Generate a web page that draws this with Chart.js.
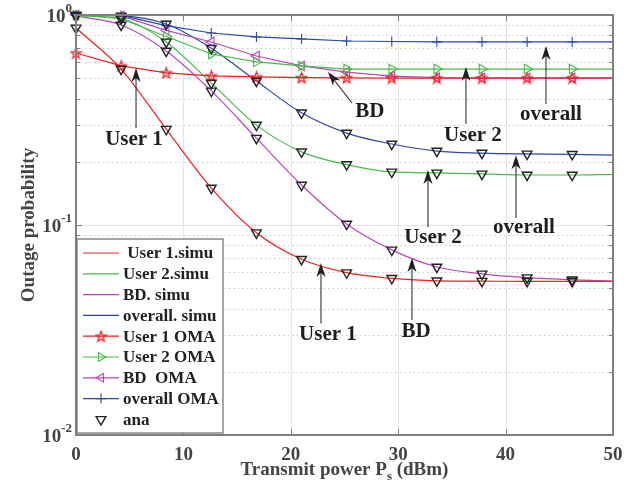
<!DOCTYPE html>
<html>
<head>
<meta charset="utf-8">
<script src="https://cdn.jsdelivr.net/npm/chart.js@4.4.0/dist/chart.umd.min.js"></script>
<style>
  html, body { margin: 0; padding: 0; background: #fff; }
</style>
</head>
<body>
<canvas id="chart" width="633" height="492"></canvas>
<script>
// transmit power (dBm) where the curves were sampled
const powerX = [0, 4.2, 8.4, 12.6, 16.8, 21, 25.2, 29.4, 33.6, 37.8, 42, 46.2, 50];

// NOMA simulation curves
const user1Simu   = [0.867, 0.553, 0.286, 0.150, 0.0919, 0.0687, 0.0593, 0.0557, 0.0542, 0.0540, 0.0539, 0.0539, 0.0539];
const user2Simu   = [0.99, 0.96, 0.744, 0.474, 0.299, 0.223, 0.194, 0.179, 0.177, 0.175, 0.173, 0.173, 0.174];
const bdSimu      = [0.99, 0.896, 0.674, 0.435, 0.259, 0.155, 0.101, 0.0761, 0.0631, 0.0585, 0.0561, 0.0548, 0.0541];
const overallSimu = [1.0, 0.99, 0.906, 0.695, 0.485, 0.342, 0.274, 0.243, 0.225, 0.220, 0.218, 0.217, 0.215];

// OMA curves
const user1Oma   = [0.659, 0.572, 0.530, 0.513, 0.507, 0.503, 0.502, 0.501, 0.501, 0.501, 0.501, 0.501, 0.501];
const user2Oma   = [1.0, 0.96, 0.79, 0.652, 0.598, 0.572, 0.553, 0.553, 0.553, 0.553, 0.553, 0.553, 0.553];
const bdOma      = [1.0, 0.99, 0.845, 0.744, 0.638, 0.572, 0.535, 0.512, 0.503, 0.502, 0.502, 0.502, 0.502];
const overallOma = [1.0, 0.995, 0.89, 0.821, 0.786, 0.769, 0.752, 0.748, 0.745, 0.744, 0.744, 0.744, 0.744];

const xTicks = [0, 10, 20, 30, 40, 50];
const yDecades = [0.01, 0.1, 1];

const legendLabels = [' User 1.simu', 'User 2.simu', 'BD. simu', 'overall. simu',
  'User 1 OMA', 'User 2 OMA', 'BD  OMA', 'overall OMA', 'ana'];

// arrows: [label, tailX, tailY, headX, headY, textX, textY] in data units
const notes = [
  ['User 1', 5.59, 0.290, 5.59, 0.559, 5.4, 0.254],
  ['BD', 25.7, 0.381, 23.46, 0.535, 27.37, 0.345],
  ['User 2', 36.31, 0.303, 36.31, 0.565, 36.96, 0.268],
  ['overall', 43.76, 0.377, 43.76, 0.712, 44.23, 0.334],
  ['User 2', 32.77, 0.0978, 32.77, 0.183, 33.24, 0.0868],
  ['overall', 40.97, 0.108, 40.97, 0.215, 41.71, 0.0968],
  ['User 1', 22.81, 0.0340, 22.81, 0.0660, 23.46, 0.0300],
  ['BD', 31.28, 0.0353, 31.28, 0.0696, 31.66, 0.0311]
];

const RED = '#f01e1e', GREEN = '#45bd45', MAGENTA = '#bd45bd', BLUE = '#2a48a6';
const SERIF = "'Liberation Serif', 'DejaVu Serif', serif";

function pts(vals) {
  return powerX.map((x, i) => ({ x: x, y: vals[i] }));
}

// red pentagram marker
function makeStar(color) {
  const c = document.createElement('canvas');
  c.width = 13; c.height = 13;
  const g = c.getContext('2d');
  g.beginPath();
  for (let i = 0; i < 10; i++) {
    const r = i % 2 === 0 ? 5.6 : 2.3;
    const a = -Math.PI / 2 + i * Math.PI / 5;
    const px = 6.5 + r * Math.cos(a), py = 7 + r * Math.sin(a);
    if (i === 0) g.moveTo(px, py); else g.lineTo(px, py);
  }
  g.closePath();
  g.fillStyle = 'rgba(255,70,70,0.2)';
  g.fill();
  g.strokeStyle = color;
  g.lineWidth = 1.2;
  g.stroke();
  return c;
}
const starImg = makeStar(RED);

const last = powerX.length - 1;
const markerRadius = r => ctx => (ctx.dataIndex === last ? 0 : r);

const simuStyle = { pointRadius: 0, borderWidth: 1.2, cubicInterpolationMode: 'monotone', order: 3, clip: false };
const omaStyle = { borderWidth: 1.2, tension: 0, order: 2, clip: false, backgroundColor: 'rgba(0,0,0,0)', pointBorderWidth: 1.1 };

const anaPoints = [user1Simu, user2Simu, bdSimu, overallSimu]
  .flatMap(s => powerX.slice(0, last).map((x, i) => ({ x: x, y: s[i] })));

const datasets = [
  { label: legendLabels[0], data: pts(user1Simu), borderColor: RED, ...simuStyle },
  { label: legendLabels[1], data: pts(user2Simu), borderColor: GREEN, ...simuStyle },
  { label: legendLabels[2], data: pts(bdSimu), borderColor: MAGENTA, ...simuStyle },
  { label: legendLabels[3], data: pts(overallSimu), borderColor: BLUE, ...simuStyle },
  { label: legendLabels[4], data: pts(user1Oma), borderColor: RED, pointStyle: starImg, pointRadius: markerRadius(5), ...omaStyle },
  { label: legendLabels[5], data: pts(user2Oma), borderColor: GREEN, pointStyle: 'triangle', pointRotation: 90, pointRadius: markerRadius(5.5), ...omaStyle },
  { label: legendLabels[6], data: pts(bdOma), borderColor: MAGENTA, pointStyle: 'triangle', pointRotation: -90, pointRadius: markerRadius(5.5), ...omaStyle },
  { label: legendLabels[7], data: pts(overallOma), borderColor: BLUE, pointStyle: 'cross', pointRadius: markerRadius(5), ...omaStyle },
  { label: legendLabels[8], data: anaPoints, showLine: false, borderColor: '#222', backgroundColor: 'rgba(0,0,0,0)',
    pointStyle: 'triangle', pointRotation: 180, pointRadius: 5.6, pointBorderWidth: 1.4, order: 1, clip: false }
];

function minorValues() {
  const out = [];
  for (let d = 0; d < yDecades.length - 1; d++) {
    for (let k = 2; k <= 9; k++) out.push(yDecades[d] * k);
  }
  return out;
}

const gridPlugin = {
  id: 'grid',
  beforeDatasetsDraw(chart) {
    const { ctx, chartArea: a, scales: { x, y } } = chart;
    ctx.save();
    ctx.lineWidth = 1;
    ctx.strokeStyle = '#e4e4e4';
    xTicks.slice(1, -1).forEach(v => {
      const px = Math.round(x.getPixelForValue(v)) + 0.5;
      ctx.beginPath(); ctx.moveTo(px, a.top); ctx.lineTo(px, a.bottom); ctx.stroke();
    });
    yDecades.slice(1, -1).forEach(v => {
      const py = Math.round(y.getPixelForValue(v)) + 0.5;
      ctx.beginPath(); ctx.moveTo(a.left, py); ctx.lineTo(a.right, py); ctx.stroke();
    });
    ctx.strokeStyle = '#c8c8c8';
    ctx.setLineDash([1.5, 3]);
    minorValues().forEach(v => {
      const py = Math.round(y.getPixelForValue(v)) + 0.5;
      ctx.beginPath(); ctx.moveTo(a.left, py); ctx.lineTo(a.right, py); ctx.stroke();
    });
    ctx.restore();
  }
};

function drawArrow(ctx, x1, y1, x2, y2) {
  const dx = x2 - x1, dy = y2 - y1, len = Math.hypot(dx, dy);
  const ux = dx / len, uy = dy / len, nx = -uy, ny = ux;
  const L = 14, W = 4.5, N = 4;
  ctx.beginPath();
  ctx.moveTo(x1, y1); ctx.lineTo(x2 - ux * (L - N), y2 - uy * (L - N));
  ctx.stroke();
  ctx.beginPath();
  ctx.moveTo(x2, y2);
  ctx.lineTo(x2 - ux * L + nx * W, y2 - uy * L + ny * W);
  ctx.lineTo(x2 - ux * (L - N), y2 - uy * (L - N));
  ctx.lineTo(x2 - ux * L - nx * W, y2 - uy * L - ny * W);
  ctx.closePath();
  ctx.fill();
}

const framePlugin = {
  id: 'frame',
  afterDraw(chart) {
    const { ctx, chartArea: a, scales: { x, y } } = chart;
    ctx.save();

    // annotations
    ctx.strokeStyle = '#333';
    ctx.fillStyle = '#1e1e1e';
    ctx.lineWidth = 1.1;
    ctx.font = 'bold 21px ' + SERIF;
    ctx.textAlign = 'center';
    ctx.textBaseline = 'middle';
    notes.forEach(n => {
      drawArrow(ctx, x.getPixelForValue(n[1]), y.getPixelForValue(n[2]),
        x.getPixelForValue(n[3]), y.getPixelForValue(n[4]));
      ctx.fillText(n[0], x.getPixelForValue(n[5]), y.getPixelForValue(n[6]));
    });

    // box and inward ticks
    ctx.strokeStyle = '#808080';
    ctx.lineWidth = 1;
    xTicks.slice(1, -1).forEach(v => {
      const px = Math.round(x.getPixelForValue(v)) + 0.5;
      ctx.beginPath();
      ctx.moveTo(px, a.bottom); ctx.lineTo(px, a.bottom - 6);
      ctx.moveTo(px, a.top); ctx.lineTo(px, a.top + 6);
      ctx.stroke();
    });
    const yt = yDecades.map(v => [v, 6]).concat(minorValues().map(v => [v, 4]));
    yt.forEach(([v, l]) => {
      const py = Math.round(y.getPixelForValue(v)) + 0.5;
      ctx.beginPath();
      ctx.moveTo(a.left, py); ctx.lineTo(a.left + l, py);
      ctx.moveTo(a.right, py); ctx.lineTo(a.right - l, py);
      ctx.stroke();
    });
    ctx.lineWidth = 2;
    ctx.strokeRect(a.left, a.top, a.right - a.left, a.bottom - a.top);

    // y tick labels with exponents
    ctx.fillStyle = '#444';
    ctx.textBaseline = 'alphabetic';
    ctx.textAlign = 'left';
    yDecades.forEach(v => {
      const py = y.getPixelForValue(v);
      const sup = String(Math.round(Math.log10(v)));
      ctx.font = 'bold 13px ' + SERIF;
      const ws = ctx.measureText(sup).width;
      ctx.font = 'bold 19px ' + SERIF;
      const wb = ctx.measureText('10').width;
      const right = a.left - 4;
      ctx.fillText('10', right - ws - wb, py + 7);
      ctx.font = 'bold 13px ' + SERIF;
      ctx.fillText(sup, right - ws, py - 3);
    });

    // axis titles
    const t1 = 'Transmit power P', t3 = ' (dBm)';
    ctx.font = 'bold 19px ' + SERIF;
    const w1 = ctx.measureText(t1).width, w3 = ctx.measureText(t3).width;
    ctx.font = 'bold 13px ' + SERIF;
    const w2 = ctx.measureText('s').width;
    const sx = (a.left + a.right) / 2 - (w1 + w2 + w3) / 2;
    const by = 475;
    ctx.font = 'bold 19px ' + SERIF;
    ctx.fillText(t1, sx, by);
    ctx.font = 'bold 13px ' + SERIF;
    ctx.fillText('s', sx + w1, by + 5);
    ctx.font = 'bold 19px ' + SERIF;
    ctx.fillText(t3, sx + w1 + w2, by);

    ctx.save();
    ctx.translate(34, (a.top + a.bottom) / 2);
    ctx.rotate(-Math.PI / 2);
    ctx.textAlign = 'center';
    ctx.fillText('Outage probability', 0, 0);
    ctx.restore();

    // legend box
    const lx = a.left + 1, ly = 239, lw = 146, lh = 194;
    ctx.fillStyle = '#fff';
    ctx.fillRect(lx, ly, lw, lh);
    ctx.strokeStyle = '#777';
    ctx.lineWidth = 1.3;
    ctx.strokeRect(lx, ly, lw, lh);
    ctx.font = 'bold 17px ' + SERIF;
    ctx.textBaseline = 'middle';
    ctx.textAlign = 'left';
    chart.data.datasets.forEach((ds, i) => {
      const ry = 253 + i * 20.8;
      ctx.strokeStyle = ds.borderColor;
      ctx.lineWidth = 1.2;
      if (ds.showLine !== false) {
        ctx.beginPath(); ctx.moveTo(83, ry); ctx.lineTo(119, ry); ctx.stroke();
      }
      if (ds.pointStyle) {
        ctx.fillStyle = 'rgba(0,0,0,0)';
        ctx.lineWidth = ds.pointBorderWidth || 1;
        Chart.helpers.drawPoint(ctx, {
          pointStyle: ds.pointStyle, rotation: ds.pointRotation || 0,
          radius: typeof ds.pointRadius === 'number' ? ds.pointRadius : 5,
          borderWidth: ctx.lineWidth
        }, 101, ry);
      }
      ctx.fillStyle = '#222';
      ctx.fillText(ds.label, 123, ry + 1);
    });

    ctx.restore();
  }
};

new Chart(document.getElementById('chart'), {
  type: 'line',
  data: { datasets: datasets },
  options: {
    responsive: false,
    animation: false,
    layout: { padding: { top: 15, right: 20, left: 0, bottom: 0 } },
    plugins: { legend: { display: false }, tooltip: { enabled: false } },
    scales: {
      x: {
        type: 'linear',
        min: 0,
        max: 50,
        afterBuildTicks: s => { s.ticks = xTicks.map(v => ({ value: v })); },
        afterFit: s => { s.height = 57; },
        grid: { display: false, drawTicks: false },
        border: { display: false },
        ticks: { padding: 9, color: '#444', font: { family: SERIF, size: 19, weight: 'bold' } }
      },
      y: {
        type: 'logarithmic',
        min: 0.01,
        max: 1,
        afterFit: s => { s.width = 76; },
        grid: { display: false, drawTicks: false },
        border: { display: false },
        ticks: { callback: () => '' }
      }
    }
  },
  plugins: [gridPlugin, framePlugin]
});
</script>
</body>
</html>
